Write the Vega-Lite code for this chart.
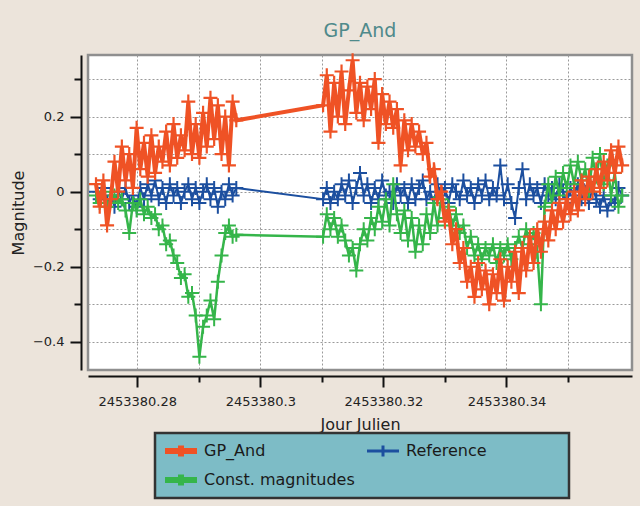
{
"$schema": "https://vega.github.io/schema/vega-lite/v6.json",
"width": 544, "height": 315,
"autosize": {"type": "none"},
"padding": {"left": 88, "top": 55, "right": 8, "bottom": 136},
"background": "#ece4db",
"title": {"text": "GP_And", "font": "DejaVu Sans", "fontSize": 19, "fontWeight": "normal", "color": "#4f8a8b", "offset": 17, "dy": 24, "baseline": "alphabetic", "anchor": "middle", "frame": "group"},
"config": {
  "view": {"stroke": "#8f8f8f", "strokeWidth": 2.5, "fill": "#ffffff"},
  "axis": {"labelFont": "DejaVu Sans", "titleFont": "DejaVu Sans", "labelFontSize": 13, "titleFontSize": 16, "titleFontWeight": "normal", "labelColor": "#222222", "titleColor": "#222222", "domainColor": "#111111", "domainWidth": 2, "tickColor": "#111111", "tickWidth": 2, "gridColor": "#9a9a9a", "gridDash": [2, 2], "gridWidth": 1, "gridOpacity": 1}
},
"data": {"values": [
{"jd":2453380.2733,"series":"Reference","mag":0.00},{"jd":2453380.2739,"series":"Reference","mag":-0.02},{"jd":2453380.2745,"series":"Reference","mag":0.01},{"jd":2453380.2751,"series":"Reference","mag":-0.03},{"jd":2453380.2757,"series":"Reference","mag":-0.01},{"jd":2453380.2763,"series":"Reference","mag":-0.04},{"jd":2453380.2769,"series":"Reference","mag":0.00},{"jd":2453380.2775,"series":"Reference","mag":-0.02},{"jd":2453380.2781,"series":"Reference","mag":0.01},{"jd":2453380.2787,"series":"Reference","mag":-0.03},
{"jd":2453380.2793,"series":"Reference","mag":-0.01},{"jd":2453380.2799,"series":"Reference","mag":-0.04},{"jd":2453380.2805,"series":"Reference","mag":0.01},{"jd":2453380.2811,"series":"Reference","mag":-0.02},{"jd":2453380.2817,"series":"Reference","mag":0.02},{"jd":2453380.2823,"series":"Reference","mag":-0.01},{"jd":2453380.2829,"series":"Reference","mag":0.03},{"jd":2453380.2835,"series":"Reference","mag":-0.02},{"jd":2453380.2841,"series":"Reference","mag":0.01},{"jd":2453380.2847,"series":"Reference","mag":-0.03},
{"jd":2453380.2853,"series":"Reference","mag":0.02},{"jd":2453380.2859,"series":"Reference","mag":-0.01},{"jd":2453380.2865,"series":"Reference","mag":0.01},{"jd":2453380.2871,"series":"Reference","mag":-0.03},{"jd":2453380.2877,"series":"Reference","mag":0.00},{"jd":2453380.2883,"series":"Reference","mag":0.02},{"jd":2453380.2889,"series":"Reference","mag":-0.02},{"jd":2453380.2895,"series":"Reference","mag":0.01},{"jd":2453380.2901,"series":"Reference","mag":-0.03},{"jd":2453380.2907,"series":"Reference","mag":0.00},
{"jd":2453380.2913,"series":"Reference","mag":0.02},{"jd":2453380.2919,"series":"Reference","mag":-0.02},{"jd":2453380.2925,"series":"Reference","mag":0.01},{"jd":2453380.2931,"series":"Reference","mag":-0.04},{"jd":2453380.2937,"series":"Reference","mag":0.00},{"jd":2453380.2943,"series":"Reference","mag":-0.02},{"jd":2453380.2949,"series":"Reference","mag":0.02},{"jd":2453380.2955,"series":"Reference","mag":-0.01},{"jd":2453380.2961,"series":"Reference","mag":0.01},
{"jd":2453380.3102,"series":"Reference","mag":-0.02},{"jd":2453380.3108,"series":"Reference","mag":0.01},{"jd":2453380.3114,"series":"Reference","mag":-0.03},{"jd":2453380.3120,"series":"Reference","mag":0.00},{"jd":2453380.3126,"series":"Reference","mag":-0.02},{"jd":2453380.3132,"series":"Reference","mag":0.02},{"jd":2453380.3138,"series":"Reference","mag":-0.01},{"jd":2453380.3144,"series":"Reference","mag":0.03},{"jd":2453380.3150,"series":"Reference","mag":-0.03},{"jd":2453380.3156,"series":"Reference","mag":0.01},
{"jd":2453380.3162,"series":"Reference","mag":0.05},{"jd":2453380.3168,"series":"Reference","mag":-0.01},{"jd":2453380.3174,"series":"Reference","mag":0.02},{"jd":2453380.3180,"series":"Reference","mag":-0.03},{"jd":2453380.3186,"series":"Reference","mag":0.01},{"jd":2453380.3192,"series":"Reference","mag":-0.02},{"jd":2453380.3198,"series":"Reference","mag":0.03},{"jd":2453380.3204,"series":"Reference","mag":-0.01},{"jd":2453380.3210,"series":"Reference","mag":0.00},{"jd":2453380.3216,"series":"Reference","mag":-0.03},
{"jd":2453380.3222,"series":"Reference","mag":0.02},{"jd":2453380.3228,"series":"Reference","mag":-0.01},{"jd":2453380.3234,"series":"Reference","mag":0.01},{"jd":2453380.3240,"series":"Reference","mag":-0.03},{"jd":2453380.3246,"series":"Reference","mag":0.02},{"jd":2453380.3252,"series":"Reference","mag":-0.02},{"jd":2453380.3258,"series":"Reference","mag":0.01},{"jd":2453380.3264,"series":"Reference","mag":0.03},{"jd":2453380.3270,"series":"Reference","mag":-0.02},{"jd":2453380.3276,"series":"Reference","mag":0.00},
{"jd":2453380.3282,"series":"Reference","mag":-0.03},{"jd":2453380.3288,"series":"Reference","mag":0.02},{"jd":2453380.3294,"series":"Reference","mag":-0.01},{"jd":2453380.3300,"series":"Reference","mag":0.01},{"jd":2453380.3306,"series":"Reference","mag":-0.03},{"jd":2453380.3312,"series":"Reference","mag":0.02},{"jd":2453380.3318,"series":"Reference","mag":0.00},{"jd":2453380.3324,"series":"Reference","mag":-0.02},{"jd":2453380.3330,"series":"Reference","mag":0.03},{"jd":2453380.3336,"series":"Reference","mag":-0.01},
{"jd":2453380.3342,"series":"Reference","mag":0.01},{"jd":2453380.3348,"series":"Reference","mag":-0.03},{"jd":2453380.3354,"series":"Reference","mag":0.02},{"jd":2453380.3360,"series":"Reference","mag":-0.01},{"jd":2453380.3366,"series":"Reference","mag":0.03},{"jd":2453380.3372,"series":"Reference","mag":-0.02},{"jd":2453380.3378,"series":"Reference","mag":0.01},{"jd":2453380.3384,"series":"Reference","mag":-0.01},{"jd":2453380.3390,"series":"Reference","mag":0.07},{"jd":2453380.3396,"series":"Reference","mag":-0.02},
{"jd":2453380.3402,"series":"Reference","mag":0.02},{"jd":2453380.3408,"series":"Reference","mag":-0.03},{"jd":2453380.3414,"series":"Reference","mag":-0.07},{"jd":2453380.3420,"series":"Reference","mag":0.01},{"jd":2453380.3426,"series":"Reference","mag":0.06},{"jd":2453380.3432,"series":"Reference","mag":-0.02},{"jd":2453380.3438,"series":"Reference","mag":0.02},{"jd":2453380.3444,"series":"Reference","mag":-0.01},{"jd":2453380.3450,"series":"Reference","mag":0.01},{"jd":2453380.3456,"series":"Reference","mag":-0.03},
{"jd":2453380.3462,"series":"Reference","mag":0.02},{"jd":2453380.3468,"series":"Reference","mag":-0.01},{"jd":2453380.3474,"series":"Reference","mag":0.01},{"jd":2453380.3480,"series":"Reference","mag":-0.02},{"jd":2453380.3486,"series":"Reference","mag":0.02},{"jd":2453380.3492,"series":"Reference","mag":0.00},{"jd":2453380.3498,"series":"Reference","mag":-0.03},{"jd":2453380.3504,"series":"Reference","mag":0.01},{"jd":2453380.3510,"series":"Reference","mag":-0.01},{"jd":2453380.3516,"series":"Reference","mag":0.02},
{"jd":2453380.3522,"series":"Reference","mag":-0.02},{"jd":2453380.3528,"series":"Reference","mag":0.00},{"jd":2453380.3534,"series":"Reference","mag":-0.03},{"jd":2453380.3540,"series":"Reference","mag":0.01},{"jd":2453380.3546,"series":"Reference","mag":-0.02},{"jd":2453380.3552,"series":"Reference","mag":-0.04},{"jd":2453380.3558,"series":"Reference","mag":-0.01},{"jd":2453380.3564,"series":"Reference","mag":-0.05},{"jd":2453380.3570,"series":"Reference","mag":-0.02},{"jd":2453380.3576,"series":"Reference","mag":-0.03},
{"jd":2453380.3582,"series":"Reference","mag":0.01},{"jd":2453380.3588,"series":"Reference","mag":-0.01},
{"jd":2453380.2733,"series":"Const. magnitudes","mag":-0.01},{"jd":2453380.2739,"series":"Const. magnitudes","mag":-0.03},{"jd":2453380.2745,"series":"Const. magnitudes","mag":0.00},{"jd":2453380.2751,"series":"Const. magnitudes","mag":-0.04},{"jd":2453380.2757,"series":"Const. magnitudes","mag":-0.02},{"jd":2453380.2763,"series":"Const. magnitudes","mag":-0.01},{"jd":2453380.2769,"series":"Const. magnitudes","mag":-0.03},{"jd":2453380.2775,"series":"Const. magnitudes","mag":-0.02},{"jd":2453380.2781,"series":"Const. magnitudes","mag":-0.05},{"jd":2453380.2787,"series":"Const. magnitudes","mag":-0.11},
{"jd":2453380.2793,"series":"Const. magnitudes","mag":-0.03},{"jd":2453380.2799,"series":"Const. magnitudes","mag":-0.05},{"jd":2453380.2805,"series":"Const. magnitudes","mag":-0.02},{"jd":2453380.2811,"series":"Const. magnitudes","mag":-0.06},{"jd":2453380.2817,"series":"Const. magnitudes","mag":-0.04},{"jd":2453380.2823,"series":"Const. magnitudes","mag":-0.07},{"jd":2453380.2829,"series":"Const. magnitudes","mag":-0.06},{"jd":2453380.2835,"series":"Const. magnitudes","mag":-0.10},{"jd":2453380.2841,"series":"Const. magnitudes","mag":-0.09},{"jd":2453380.2847,"series":"Const. magnitudes","mag":-0.14},
{"jd":2453380.2853,"series":"Const. magnitudes","mag":-0.13},{"jd":2453380.2859,"series":"Const. magnitudes","mag":-0.17},{"jd":2453380.2865,"series":"Const. magnitudes","mag":-0.19},{"jd":2453380.2871,"series":"Const. magnitudes","mag":-0.23},{"jd":2453380.2877,"series":"Const. magnitudes","mag":-0.22},{"jd":2453380.2883,"series":"Const. magnitudes","mag":-0.28},{"jd":2453380.2889,"series":"Const. magnitudes","mag":-0.27},{"jd":2453380.2895,"series":"Const. magnitudes","mag":-0.33},{"jd":2453380.2901,"series":"Const. magnitudes","mag":-0.44},{"jd":2453380.2907,"series":"Const. magnitudes","mag":-0.36},
{"jd":2453380.2913,"series":"Const. magnitudes","mag":-0.33},{"jd":2453380.2919,"series":"Const. magnitudes","mag":-0.29},{"jd":2453380.2925,"series":"Const. magnitudes","mag":-0.34},{"jd":2453380.2931,"series":"Const. magnitudes","mag":-0.24},{"jd":2453380.2937,"series":"Const. magnitudes","mag":-0.17},{"jd":2453380.2943,"series":"Const. magnitudes","mag":-0.11},{"jd":2453380.2949,"series":"Const. magnitudes","mag":-0.09},{"jd":2453380.2955,"series":"Const. magnitudes","mag":-0.12},{"jd":2453380.2961,"series":"Const. magnitudes","mag":-0.115},
{"jd":2453380.3102,"series":"Const. magnitudes","mag":-0.12},{"jd":2453380.3108,"series":"Const. magnitudes","mag":-0.06},{"jd":2453380.3114,"series":"Const. magnitudes","mag":-0.10},{"jd":2453380.3120,"series":"Const. magnitudes","mag":-0.07},{"jd":2453380.3126,"series":"Const. magnitudes","mag":-0.12},{"jd":2453380.3132,"series":"Const. magnitudes","mag":-0.09},{"jd":2453380.3138,"series":"Const. magnitudes","mag":-0.13},{"jd":2453380.3144,"series":"Const. magnitudes","mag":-0.17},{"jd":2453380.3150,"series":"Const. magnitudes","mag":-0.15},{"jd":2453380.3156,"series":"Const. magnitudes","mag":-0.21},
{"jd":2453380.3162,"series":"Const. magnitudes","mag":-0.14},{"jd":2453380.3168,"series":"Const. magnitudes","mag":-0.10},{"jd":2453380.3174,"series":"Const. magnitudes","mag":-0.13},{"jd":2453380.3180,"series":"Const. magnitudes","mag":-0.07},{"jd":2453380.3186,"series":"Const. magnitudes","mag":-0.10},{"jd":2453380.3192,"series":"Const. magnitudes","mag":-0.04},{"jd":2453380.3198,"series":"Const. magnitudes","mag":-0.08},{"jd":2453380.3204,"series":"Const. magnitudes","mag":-0.02},{"jd":2453380.3210,"series":"Const. magnitudes","mag":-0.09},{"jd":2453380.3216,"series":"Const. magnitudes","mag":0.02},
{"jd":2453380.3222,"series":"Const. magnitudes","mag":-0.06},{"jd":2453380.3228,"series":"Const. magnitudes","mag":-0.11},{"jd":2453380.3234,"series":"Const. magnitudes","mag":-0.05},{"jd":2453380.3240,"series":"Const. magnitudes","mag":-0.13},{"jd":2453380.3246,"series":"Const. magnitudes","mag":-0.07},{"jd":2453380.3252,"series":"Const. magnitudes","mag":-0.16},{"jd":2453380.3258,"series":"Const. magnitudes","mag":-0.09},{"jd":2453380.3264,"series":"Const. magnitudes","mag":-0.14},{"jd":2453380.3270,"series":"Const. magnitudes","mag":-0.06},{"jd":2453380.3276,"series":"Const. magnitudes","mag":-0.11},
{"jd":2453380.3282,"series":"Const. magnitudes","mag":-0.03},{"jd":2453380.3288,"series":"Const. magnitudes","mag":-0.09},{"jd":2453380.3294,"series":"Const. magnitudes","mag":-0.02},{"jd":2453380.3300,"series":"Const. magnitudes","mag":-0.07},{"jd":2453380.3306,"series":"Const. magnitudes","mag":-0.04},{"jd":2453380.3312,"series":"Const. magnitudes","mag":-0.09},{"jd":2453380.3318,"series":"Const. magnitudes","mag":-0.06},{"jd":2453380.3324,"series":"Const. magnitudes","mag":-0.11},{"jd":2453380.3330,"series":"Const. magnitudes","mag":-0.09},{"jd":2453380.3336,"series":"Const. magnitudes","mag":-0.15},
{"jd":2453380.3342,"series":"Const. magnitudes","mag":-0.12},{"jd":2453380.3348,"series":"Const. magnitudes","mag":-0.17},{"jd":2453380.3354,"series":"Const. magnitudes","mag":-0.14},{"jd":2453380.3360,"series":"Const. magnitudes","mag":-0.18},{"jd":2453380.3366,"series":"Const. magnitudes","mag":-0.15},{"jd":2453380.3372,"series":"Const. magnitudes","mag":-0.17},{"jd":2453380.3378,"series":"Const. magnitudes","mag":-0.14},{"jd":2453380.3384,"series":"Const. magnitudes","mag":-0.19},{"jd":2453380.3390,"series":"Const. magnitudes","mag":-0.15},{"jd":2453380.3396,"series":"Const. magnitudes","mag":-0.17},
{"jd":2453380.3402,"series":"Const. magnitudes","mag":-0.14},{"jd":2453380.3408,"series":"Const. magnitudes","mag":-0.18},{"jd":2453380.3414,"series":"Const. magnitudes","mag":-0.15},{"jd":2453380.3420,"series":"Const. magnitudes","mag":-0.12},{"jd":2453380.3426,"series":"Const. magnitudes","mag":-0.15},{"jd":2453380.3432,"series":"Const. magnitudes","mag":-0.10},{"jd":2453380.3438,"series":"Const. magnitudes","mag":-0.14},{"jd":2453380.3444,"series":"Const. magnitudes","mag":-0.11},{"jd":2453380.3450,"series":"Const. magnitudes","mag":-0.16},{"jd":2453380.3456,"series":"Const. magnitudes","mag":-0.30},
{"jd":2453380.3462,"series":"Const. magnitudes","mag":-0.04},{"jd":2453380.3468,"series":"Const. magnitudes","mag":0.02},{"jd":2453380.3474,"series":"Const. magnitudes","mag":-0.03},{"jd":2453380.3480,"series":"Const. magnitudes","mag":0.04},{"jd":2453380.3486,"series":"Const. magnitudes","mag":-0.01},{"jd":2453380.3492,"series":"Const. magnitudes","mag":0.05},{"jd":2453380.3498,"series":"Const. magnitudes","mag":0.01},{"jd":2453380.3504,"series":"Const. magnitudes","mag":0.07},{"jd":2453380.3510,"series":"Const. magnitudes","mag":0.02},{"jd":2453380.3516,"series":"Const. magnitudes","mag":0.08},
{"jd":2453380.3522,"series":"Const. magnitudes","mag":0.03},{"jd":2453380.3528,"series":"Const. magnitudes","mag":0.06},{"jd":2453380.3534,"series":"Const. magnitudes","mag":0.00},{"jd":2453380.3540,"series":"Const. magnitudes","mag":0.09},{"jd":2453380.3546,"series":"Const. magnitudes","mag":0.04},{"jd":2453380.3552,"series":"Const. magnitudes","mag":0.10},{"jd":2453380.3558,"series":"Const. magnitudes","mag":0.02},{"jd":2453380.3564,"series":"Const. magnitudes","mag":0.07},{"jd":2453380.3570,"series":"Const. magnitudes","mag":-0.01},{"jd":2453380.3576,"series":"Const. magnitudes","mag":0.05},
{"jd":2453380.3582,"series":"Const. magnitudes","mag":-0.04},{"jd":2453380.3588,"series":"Const. magnitudes","mag":-0.01},
{"jd":2453380.2733,"series":"GP_And","mag":0.02},{"jd":2453380.2739,"series":"GP_And","mag":-0.04},{"jd":2453380.2745,"series":"GP_And","mag":0.03},{"jd":2453380.2751,"series":"GP_And","mag":-0.09},{"jd":2453380.2757,"series":"GP_And","mag":-0.02},{"jd":2453380.2763,"series":"GP_And","mag":0.08},{"jd":2453380.2769,"series":"GP_And","mag":0.00},{"jd":2453380.2775,"series":"GP_And","mag":0.12},{"jd":2453380.2781,"series":"GP_And","mag":0.03},{"jd":2453380.2787,"series":"GP_And","mag":0.10},
{"jd":2453380.2793,"series":"GP_And","mag":0.01},{"jd":2453380.2799,"series":"GP_And","mag":0.17},{"jd":2453380.2805,"series":"GP_And","mag":0.06},{"jd":2453380.2811,"series":"GP_And","mag":0.13},{"jd":2453380.2817,"series":"GP_And","mag":0.04},{"jd":2453380.2823,"series":"GP_And","mag":0.15},{"jd":2453380.2829,"series":"GP_And","mag":0.05},{"jd":2453380.2835,"series":"GP_And","mag":0.12},{"jd":2453380.2841,"series":"GP_And","mag":0.08},{"jd":2453380.2847,"series":"GP_And","mag":0.16},
{"jd":2453380.2853,"series":"GP_And","mag":0.07},{"jd":2453380.2859,"series":"GP_And","mag":0.18},{"jd":2453380.2865,"series":"GP_And","mag":0.09},{"jd":2453380.2871,"series":"GP_And","mag":0.15},{"jd":2453380.2877,"series":"GP_And","mag":0.11},{"jd":2453380.2883,"series":"GP_And","mag":0.24},{"jd":2453380.2889,"series":"GP_And","mag":0.10},{"jd":2453380.2895,"series":"GP_And","mag":0.18},{"jd":2453380.2901,"series":"GP_And","mag":0.09},{"jd":2453380.2907,"series":"GP_And","mag":0.21},
{"jd":2453380.2913,"series":"GP_And","mag":0.12},{"jd":2453380.2919,"series":"GP_And","mag":0.25},{"jd":2453380.2925,"series":"GP_And","mag":0.14},{"jd":2453380.2931,"series":"GP_And","mag":0.23},{"jd":2453380.2937,"series":"GP_And","mag":0.10},{"jd":2453380.2943,"series":"GP_And","mag":0.20},{"jd":2453380.2949,"series":"GP_And","mag":0.07},{"jd":2453380.2955,"series":"GP_And","mag":0.24},{"jd":2453380.2961,"series":"GP_And","mag":0.19},
{"jd":2453380.3102,"series":"GP_And","mag":0.23},{"jd":2453380.3108,"series":"GP_And","mag":0.31},{"jd":2453380.3114,"series":"GP_And","mag":0.16},{"jd":2453380.3120,"series":"GP_And","mag":0.29},{"jd":2453380.3126,"series":"GP_And","mag":0.20},{"jd":2453380.3132,"series":"GP_And","mag":0.32},{"jd":2453380.3138,"series":"GP_And","mag":0.18},{"jd":2453380.3144,"series":"GP_And","mag":0.27},{"jd":2453380.3150,"series":"GP_And","mag":0.35},{"jd":2453380.3156,"series":"GP_And","mag":0.21},
{"jd":2453380.3162,"series":"GP_And","mag":0.29},{"jd":2453380.3168,"series":"GP_And","mag":0.19},{"jd":2453380.3174,"series":"GP_And","mag":0.28},{"jd":2453380.3180,"series":"GP_And","mag":0.22},{"jd":2453380.3186,"series":"GP_And","mag":0.30},{"jd":2453380.3192,"series":"GP_And","mag":0.13},{"jd":2453380.3198,"series":"GP_And","mag":0.26},{"jd":2453380.3204,"series":"GP_And","mag":0.18},{"jd":2453380.3210,"series":"GP_And","mag":0.24},{"jd":2453380.3216,"series":"GP_And","mag":0.17},
{"jd":2453380.3222,"series":"GP_And","mag":0.22},{"jd":2453380.3228,"series":"GP_And","mag":0.07},{"jd":2453380.3234,"series":"GP_And","mag":0.19},{"jd":2453380.3240,"series":"GP_And","mag":0.11},{"jd":2453380.3246,"series":"GP_And","mag":0.18},{"jd":2453380.3252,"series":"GP_And","mag":0.12},{"jd":2453380.3258,"series":"GP_And","mag":0.16},{"jd":2453380.3264,"series":"GP_And","mag":0.10},{"jd":2453380.3270,"series":"GP_And","mag":0.13},{"jd":2453380.3276,"series":"GP_And","mag":0.04},
{"jd":2453380.3282,"series":"GP_And","mag":0.06},{"jd":2453380.3288,"series":"GP_And","mag":-0.02},{"jd":2453380.3294,"series":"GP_And","mag":0.00},{"jd":2453380.3300,"series":"GP_And","mag":-0.08},{"jd":2453380.3306,"series":"GP_And","mag":-0.05},{"jd":2453380.3312,"series":"GP_And","mag":-0.14},{"jd":2453380.3318,"series":"GP_And","mag":-0.10},{"jd":2453380.3324,"series":"GP_And","mag":-0.19},{"jd":2453380.3330,"series":"GP_And","mag":-0.15},{"jd":2453380.3336,"series":"GP_And","mag":-0.24},
{"jd":2453380.3342,"series":"GP_And","mag":-0.20},{"jd":2453380.3348,"series":"GP_And","mag":-0.28},{"jd":2453380.3354,"series":"GP_And","mag":-0.19},{"jd":2453380.3360,"series":"GP_And","mag":-0.26},{"jd":2453380.3366,"series":"GP_And","mag":-0.21},{"jd":2453380.3372,"series":"GP_And","mag":-0.30},{"jd":2453380.3378,"series":"GP_And","mag":-0.22},{"jd":2453380.3384,"series":"GP_And","mag":-0.27},{"jd":2453380.3390,"series":"GP_And","mag":-0.18},{"jd":2453380.3396,"series":"GP_And","mag":-0.29},
{"jd":2453380.3402,"series":"GP_And","mag":-0.20},{"jd":2453380.3408,"series":"GP_And","mag":-0.24},{"jd":2453380.3414,"series":"GP_And","mag":-0.16},{"jd":2453380.3420,"series":"GP_And","mag":-0.27},{"jd":2453380.3426,"series":"GP_And","mag":-0.15},{"jd":2453380.3432,"series":"GP_And","mag":-0.21},{"jd":2453380.3438,"series":"GP_And","mag":-0.12},{"jd":2453380.3444,"series":"GP_And","mag":-0.19},{"jd":2453380.3450,"series":"GP_And","mag":-0.10},{"jd":2453380.3456,"series":"GP_And","mag":-0.16},
{"jd":2453380.3462,"series":"GP_And","mag":-0.08},{"jd":2453380.3468,"series":"GP_And","mag":-0.13},{"jd":2453380.3474,"series":"GP_And","mag":-0.05},{"jd":2453380.3480,"series":"GP_And","mag":-0.10},{"jd":2453380.3486,"series":"GP_And","mag":-0.03},{"jd":2453380.3492,"series":"GP_And","mag":-0.08},{"jd":2453380.3498,"series":"GP_And","mag":-0.02},{"jd":2453380.3504,"series":"GP_And","mag":-0.06},{"jd":2453380.3510,"series":"GP_And","mag":0.00},{"jd":2453380.3516,"series":"GP_And","mag":-0.05},
{"jd":2453380.3522,"series":"GP_And","mag":0.03},{"jd":2453380.3528,"series":"GP_And","mag":-0.02},{"jd":2453380.3534,"series":"GP_And","mag":0.04},{"jd":2453380.3540,"series":"GP_And","mag":0.00},{"jd":2453380.3546,"series":"GP_And","mag":0.06},{"jd":2453380.3552,"series":"GP_And","mag":0.01},{"jd":2453380.3558,"series":"GP_And","mag":0.08},{"jd":2453380.3564,"series":"GP_And","mag":0.03},{"jd":2453380.3570,"series":"GP_And","mag":0.11},{"jd":2453380.3576,"series":"GP_And","mag":0.05},
{"jd":2453380.3582,"series":"GP_And","mag":0.12},{"jd":2453380.3588,"series":"GP_And","mag":0.07}
]},
"encoding": {
  "x": {"field": "jd", "type": "quantitative",
    "scale": {"domain": [2453380.272, 2453380.3604], "nice": false, "zero": false},
    "axis": {"title": "Jour Julien", "values": [2453380.28, 2453380.29, 2453380.30, 2453380.31, 2453380.32, 2453380.33, 2453380.34, 2453380.35],
      "format": ".2~f", "labelExpr": "round(datum.value*100) % 2 === 0 ? datum.label : ''",
      "tickSize": {"condition": {"test": "round(datum.value*100) % 2 === 0", "value": 11}, "value": 6},
      "offset": 6, "labelPadding": 8, "titlePadding": 8, "grid": true, "labelFlush": false}},
  "y": {"field": "mag", "type": "quantitative",
    "scale": {"domain": [-0.475, 0.364], "nice": false, "zero": false},
    "axis": {"title": "Magnitude", "values": [-0.4, -0.3, -0.2, -0.1, 0, 0.1, 0.2, 0.3],
      "format": ".1~f", "labelExpr": "round(datum.value*10) % 2 === 0 ? datum.label : ''",
      "tickSize": {"condition": {"test": "round(datum.value*10) % 2 === 0", "value": 11}, "value": 7},
      "offset": 7, "labelPadding": 6, "titlePadding": 6, "grid": true}},
  "color": {"field": "series", "type": "nominal",
    "scale": {"domain": ["GP_And", "Reference", "Const. magnitudes"], "range": ["#ef5225", "#1c4f9f", "#35b54a"]},
    "legend": {"title": null, "orient": "none", "legendX": 67, "legendY": 378, "direction": "horizontal", "columns": 2, "gridAlign": "each",
      "fillColor": "#7dbcc6", "strokeColor": "#333333", "padding": 10, "columnPadding": 10, "rowPadding": 13, "clipHeight": 16,
      "labelFont": "DejaVu Sans", "labelFontSize": 16, "labelColor": "#1a1a1a", "labelOffset": 15, "labelLimit": 400, "symbolOffset": 8,
      "symbolType": "M-4,0H4M0,-1.4V1.4", "symbolSize": 64, "symbolStrokeWidth": 6,
      "encode": {"symbols": {"update": {"strokeWidth": {"signal": "datum.value === 'Reference' ? 3 : 6"}}},
                 "entries": {"update": {"width": {"signal": "datum.value === 'Reference' ? 188 : 192"}}},
                 "legend": {"update": {"strokeWidth": {"value": 2.5}}}}}}
},
"layer": [
  {"transform": [{"filter": "datum.series === 'Reference'"}], "mark": {"type": "line", "strokeWidth": 2}},
  {"transform": [{"filter": "datum.series === 'Reference'"}], "mark": {"type": "point", "shape": "M-1,0H1M0,-1V1", "size": 196, "strokeWidth": 2, "filled": false, "opacity": 1}},
  {"transform": [{"filter": "datum.series === 'Const. magnitudes'"}], "mark": {"type": "line", "strokeWidth": 2.5}},
  {"transform": [{"filter": "datum.series === 'Const. magnitudes'"}], "mark": {"type": "point", "shape": "M-1,0H1M0,-1V1", "size": 196, "strokeWidth": 2, "filled": false, "opacity": 1}},
  {"transform": [{"filter": "datum.series === 'GP_And'"}], "mark": {"type": "line", "strokeWidth": 4}},
  {"transform": [{"filter": "datum.series === 'GP_And'"}], "mark": {"type": "point", "shape": "M-1,0H1M0,-1V1", "size": 196, "strokeWidth": 2.2, "filled": false, "opacity": 1}}
]
}
